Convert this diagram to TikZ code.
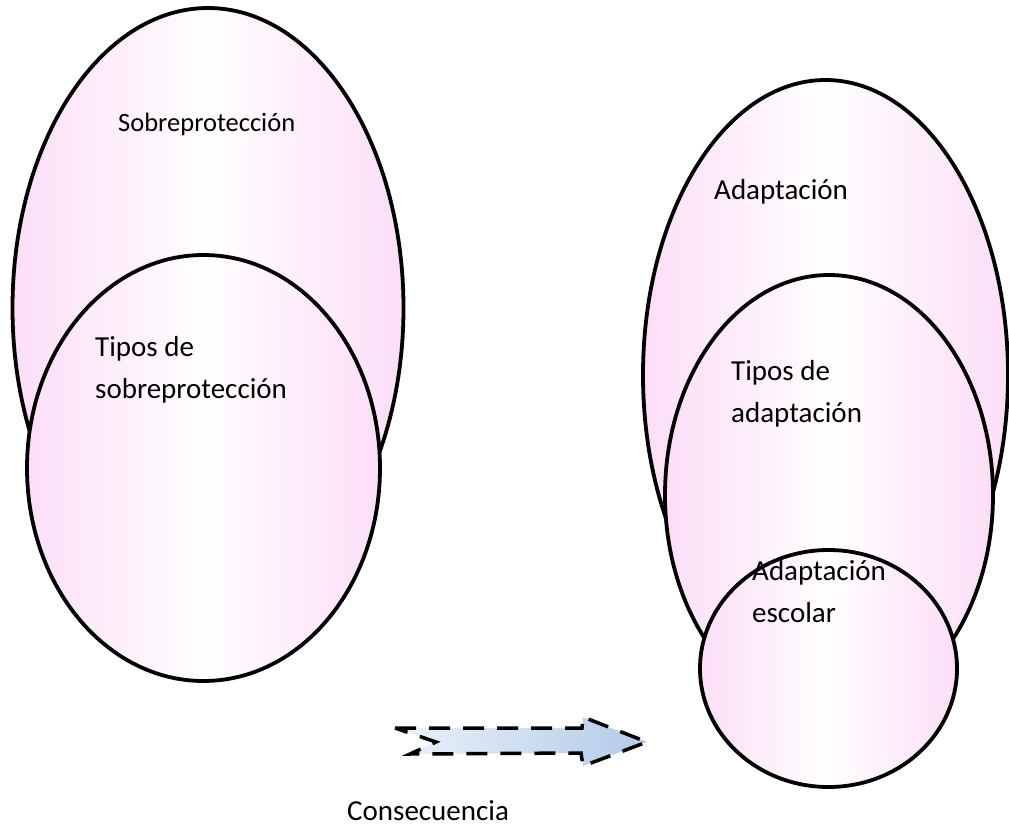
\documentclass[tikz,border=0pt]{standalone}
\usepackage{fontspec}
\setmainfont{Carlito}
\usepackage{tikz}
\usetikzlibrary{
shapes.geometric,
}

\definecolor{rosa}{RGB}{252,222,247}
\definecolor{azulA}{RGB}{236,242,250}
\definecolor{azulB}{RGB}{178,202,232}

\tikzset{
  globo/.style={ellipse, draw, line width=3.8pt, inner sep=0pt,
    left color=rosa, right color=rosa, middle color=white},
  etiqueta/.style={anchor=base west, align=left, inner sep=0pt,
    font=\fontsize{29}{42}\selectfont},
}

\begin{document}
\begin{tikzpicture}[x=1pt, y=-1pt]
					      \useasboundingbox (0,0) rectangle (1009,829);
					      % izquierda
					      \node[globo, minimum width=391pt, minimum height=600pt] (S) at (208,308) {};
					      \node[etiqueta, font=\fontsize{26.5}{32}\selectfont] (s1) at (118,132) {Sobreprotección};
					      \node[globo, minimum width=353pt, minimum height=426pt] (T) at (203.5,468) {};
					      \node[etiqueta] (t1) at (95,398) {Tipos de\\sobreprotección};

					      % derecha
					      \node[globo, minimum width=365pt, minimum height=590pt] (A) at (825.5,375) {};
					      \node[etiqueta] (a1) at (714,200) {Adaptación};
					      \node[globo, minimum width=328pt, minimum height=440pt] (TA) at (829,495) {};
					      \node[etiqueta] (ta1) at (731,422) {Tipos de\\adaptación};
					      \node[globo, minimum width=257pt, minimum height=237pt] (E) at (828.5,668.5) {};
					      \node[etiqueta] (e1) at (752,622) {Adaptación\\escolar};

					      % flecha
					      \coordinate (F1) at (395,728);
					      \coordinate (F2) at (582,728);
					      \coordinate (F3) at (583,717);
					      \coordinate (F4) at (647,742);
					      \coordinate (F5) at (583,766);
					      \coordinate (F6) at (581,753);
					      \coordinate (F7) at (410,754);
					      \coordinate (F8) at (436,742);
					      \draw[line width=3.5pt, dash pattern=on 21pt off 13pt, line join=miter,
					            left color=azulA, right color=azulB]
					        (F1) -- (F2) -- (F3) -- (F4) -- (F5) -- (F6) -- (F7) -- (F8) -- cycle;
					      \node[etiqueta] (c1) at (347,820) {Consecuencia};
				      \end{tikzpicture}
\end{document}
